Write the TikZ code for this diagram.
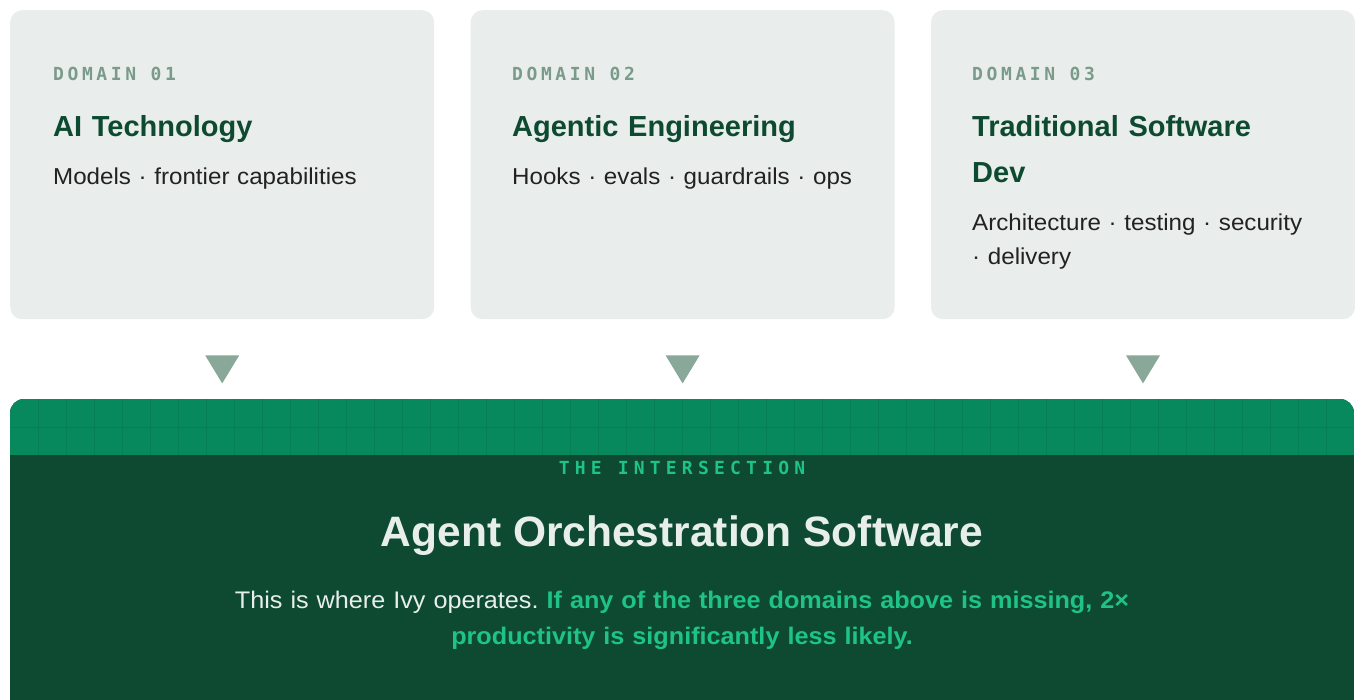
\documentclass[tikz,border=0pt]{standalone}
\usepackage{fontspec}
\setmainfont{Liberation Sans}
\newfontfamily\blurbfont{Liberation Sans}[FakeStretch=1.05]
\newfontfamily\tagfont{DejaVu Sans Mono}[LetterSpace=20]
\newfontfamily\bandfont{DejaVu Sans Mono}[LetterSpace=29]
\usetikzlibrary{positioning,calc}
\frenchspacing

\definecolor{cardbg}{HTML}{E9EDEB}
\definecolor{tagtext}{HTML}{7A9B8B}
\definecolor{deepgreen}{HTML}{0E4A31}
\definecolor{subtext}{HTML}{222222}
\definecolor{pointer}{HTML}{8AA899}
\definecolor{bandgreen}{HTML}{07895D}
\definecolor{gridgreen}{HTML}{067F56}
\definecolor{mint}{HTML}{1FC386}
\definecolor{paletext}{HTML}{E8EFEA}

\tikzset{
  card/.style={draw=none, fill=cardbg, rounded corners=12pt,
    minimum width=424pt, minimum height=309pt, inner sep=0pt},
  tag/.style={anchor=base west, inner sep=0pt, text=tagtext,
    font=\tagfont\bfseries\fontsize{18}{18}\selectfont},
  heading/.style={anchor=base west, inner sep=0pt, text=deepgreen,
    text width=370pt, align=left,
    font=\bfseries\fontsize{29}{46}\selectfont},
  blurb/.style={anchor=base west, inner sep=0pt, text=subtext,
    text width=370pt, align=left,
    font=\blurbfont\fontsize{23}{34}\selectfont},
  pointer/.style={fill=pointer, draw=none}
}

\begin{document}
\begin{tikzpicture}[x=1pt, y=-1pt]
    \useasboundingbox (0,0) rectangle (1355,700);
    % Add the domain cards
    \node[card,
          anchor=north west] (card1) at (10,10) {};
    \node[card,
          right=36pt of card1] (card2) {};
    \node[card,
          right=36pt of card2] (card3) {};
    % Card texts
    \node[tag] (tag1) at (53,81) {DOMAIN 01};
    \node[heading] (head1) at (53,137) {AI Technology};
    \node[blurb] (blurb1) at (53,185) {Models · frontier capabilities};
    \node[tag] (tag2) at (512,81) {DOMAIN 02};
    \node[heading] (head2) at (512,137) {Agentic Engineering};
    \node[blurb] (blurb2) at (512,185) {Hooks · evals · guardrails · ops};
    \node[tag] (tag3) at (972,81) {DOMAIN 03};
    \node[heading] (head3) at (972,137) {Traditional Software\\Dev};
    \node[blurb] (blurb3) at (972,231) {Architecture · testing · security\\· delivery};
    % Pointers down to the intersection
    \foreach \c in {1,2,3} {
      \coordinate[below=36pt of card\c] (tip\c);
      \fill[pointer] (tip\c) ++(-17,0) -- ++(34,0) -- ++(-17,28) -- cycle;
    }
    % The intersection panel
    \begin{scope}
      \clip[rounded corners=14pt] (10,399) rectangle (1354,730);
      \fill[deepgreen] (10,399) rectangle (1354,730);
      \fill[bandgreen] (10,399) rectangle (1354,455);
      \foreach \gx in {38,66,...,1354}
        \draw[gridgreen, line width=0.7pt] (\gx,399) -- (\gx,455);
      \draw[gridgreen, line width=0.7pt] (10,427) -- (1354,427);
    \end{scope}
    \node[anchor=base, inner sep=0pt, text=mint,
          font=\bandfont\bfseries\fontsize{18}{18}\selectfont] (over) at (682,474) {THE INTERSECTION};
    \node[anchor=base, inner sep=0pt, text=paletext,
          font=\bfseries\fontsize{42.5}{42.5}\selectfont] (core) at (682,546) {Agent Orchestration Software};
    \node[anchor=base, inner sep=0pt, text=paletext, text width=1200pt, align=center,
          font=\blurbfont\fontsize{24}{36}\selectfont] (note) at (682,608)
          {This is where Ivy operates. \textcolor{mint}{\bfseries If any of the three domains above is missing, 2×}\\
           \textcolor{mint}{\bfseries productivity is significantly less likely.}};
\end{tikzpicture}
\end{document}
